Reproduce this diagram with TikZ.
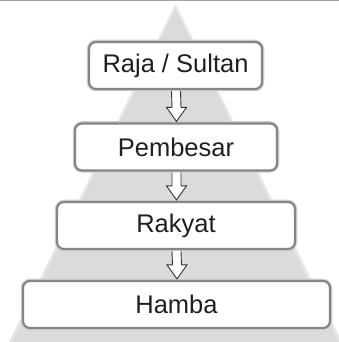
\documentclass[tikz,border=0pt]{standalone}
\usepackage{fontspec}
\setmainfont{Liberation Sans}
\usetikzlibrary{calc}
\begin{document}
\begin{tikzpicture}[x=1pt,y=1pt,
  levelbox/.style={draw=black!48, line width=2.2pt, fill=white, rounded corners=7pt,
    minimum height=47pt, inner sep=0pt, text=black!88,
    font=\fontsize{25.5}{28}\selectfont,
    preaction={draw=black!18, line width=4.5pt}},
  hollowarrow/.style={draw=black!80, line width=0.9pt, fill=white, line join=miter}
]
\useasboundingbox (0,0) rectangle (339,342);
\fill[white] (0,0) rectangle (339,342);
% top rule
\fill[black!35] (0,341) rectangle (339,342);
% pyramid background with soft edge
\fill[black!10] (9,0) -- (175.5,338) -- (342,0) -- cycle;
\fill[black!14] (12.5,0) -- (175.5,333) -- (338.5,0) -- cycle;

\node[levelbox, minimum width=173pt] (raja) at (175.5,276.5) {Raja / Sultan};
\node[levelbox, minimum width=202pt] (pemb) at (176,195) {Pembesar};
\node[levelbox, minimum width=238pt] (rakyat) at (176,116.5) {Rakyat};
\node[levelbox, minimum width=307pt] (hamba) at (176.5,37.5) {Hamba};

% hollow down arrows between levels
\foreach \a/\b in {raja/pemb, pemb/rakyat, rakyat/hamba}{
  \path (\a.south) ++(0.5,-1) coordinate (s) (\b.north) ++(0.5,1) coordinate (e);
  \draw[hollowarrow] ($(s)+(-4.5,0)$) -- ($(e)+(-4.5,14)$) -- ($(e)+(-10,14)$) -- (e)
    -- ($(e)+(10,14)$) -- ($(e)+(4.5,14)$) -- ($(s)+(4.5,0)$);
}
\end{tikzpicture}
\end{document}
